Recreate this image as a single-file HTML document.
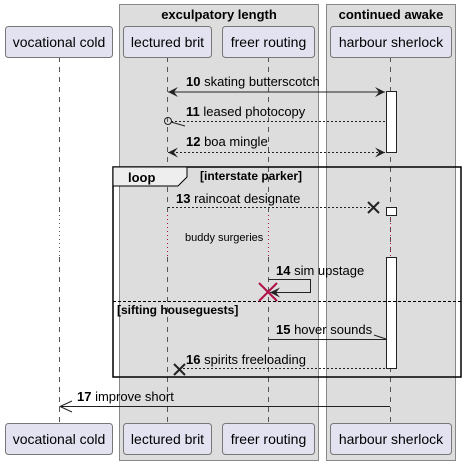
<!DOCTYPE html>
<html><head><meta charset="utf-8"><style>
html,body{margin:0;padding:0;background:#fff;}
svg{display:block;font-family:"Liberation Sans",sans-serif;}
</style></head><body>
<svg width="467" height="465" viewBox="0 0 467 465" xmlns="http://www.w3.org/2000/svg">
<defs>
<marker id="ah" viewBox="0 0 10 10" refX="10" refY="5" markerWidth="10" markerHeight="10" orient="auto-start-reverse" markerUnits="userSpaceOnUse"><path d="M0,0 L10,5 L0,10 L4,5 Z" fill="#222"/></marker>
</defs>
<g>
<rect x="119.5" y="4.5" width="199" height="456" fill="#dddddd" stroke="#888" stroke-width="1"/>
<text x="219" y="19" font-size="13" font-weight="bold" text-anchor="middle" fill="#000">exculpatory length</text>
</g>
<g>
<rect x="326.5" y="4.5" width="129" height="456" fill="#dddddd" stroke="#888" stroke-width="1"/>
<text x="391" y="19" font-size="13" font-weight="bold" text-anchor="middle" fill="#000">continued awake</text>
</g>
<g stroke="#555" stroke-dasharray="5,5" stroke-width="1">
<line x1="59.5" y1="57" x2="59.5" y2="215"/>
<line x1="59.5" y1="257" x2="59.5" y2="423"/>
<line x1="167.5" y1="57" x2="167.5" y2="215"/>
<line x1="167.5" y1="257" x2="167.5" y2="423"/>
<line x1="268.5" y1="57" x2="268.5" y2="215"/>
<line x1="268.5" y1="257" x2="268.5" y2="423"/>
<line x1="390.5" y1="57" x2="390.5" y2="423"/>
</g>
<line x1="59.5" y1="215" x2="59.5" y2="257" stroke="#555" stroke-dasharray="1,3"/>
<g stroke="#b0104a" stroke-dasharray="1,3" stroke-width="1">
<line x1="167.5" y1="215" x2="167.5" y2="257"/>
<line x1="268.5" y1="215" x2="268.5" y2="257"/>
<line x1="390.5" y1="215" x2="390.5" y2="257"/>
</g>
<g font-size="14" fill="#000" text-anchor="middle">
<g><rect x="5.5" y="26.5" width="107" height="31" rx="3" fill="#e2e2f0" stroke="#777"/><text x="59" y="47">vocational cold</text></g>
<g><rect x="123.5" y="26.5" width="88" height="31" rx="3" fill="#e2e2f0" stroke="#777"/><text x="167.5" y="47">lectured brit</text></g>
<g><rect x="222.5" y="26.5" width="92" height="31" rx="3" fill="#e2e2f0" stroke="#777"/><text x="268.5" y="47">freer routing</text></g>
<g><rect x="330.5" y="26.5" width="121" height="31" rx="3" fill="#e2e2f0" stroke="#777"/><text x="391" y="47">harbour sherlock</text></g>
<g><rect x="5.5" y="423.5" width="107" height="31" rx="3" fill="#e2e2f0" stroke="#777"/><text x="59" y="444">vocational cold</text></g>
<g><rect x="123.5" y="423.5" width="88" height="31" rx="3" fill="#e2e2f0" stroke="#777"/><text x="167.5" y="444">lectured brit</text></g>
<g><rect x="222.5" y="423.5" width="92" height="31" rx="3" fill="#e2e2f0" stroke="#777"/><text x="268.5" y="444">freer routing</text></g>
<g><rect x="330.5" y="423.5" width="121" height="31" rx="3" fill="#e2e2f0" stroke="#777"/><text x="391" y="444">harbour sherlock</text></g>
</g>
<rect x="386.5" y="91.5" width="10" height="61" fill="#fff" stroke="#222"/>
<rect x="386.5" y="207.5" width="10" height="8" fill="#fff" stroke="#222"/>
<rect x="386.5" y="257.5" width="10" height="111" fill="#fff" stroke="#222"/>
<g>
<rect x="113" y="167" width="348" height="210" fill="none" stroke="#000" stroke-width="1.5"/>
<path d="M113,167 L187,167 L187,177 L178,186 L113,186 Z" fill="#eeeeee" stroke="#000" stroke-width="1"/>
<text x="128" y="182" font-size="13" font-weight="bold">loop</text>
<text x="200" y="180" font-size="12" font-weight="bold">[interstate parker]</text>
<line x1="113" y1="301.5" x2="461" y2="301.5" stroke="#000" stroke-dasharray="3,2"/>
<text x="117" y="314" font-size="12" font-weight="bold">[sifting houseguests]</text>
</g>
<g font-size="13" fill="#000">
<g>
<line x1="168" y1="92" x2="385" y2="92" stroke="#222" marker-start="url(#ah)" marker-end="url(#ah)"/>
<text x="186" y="86"><tspan font-weight="bold">10</tspan> skating butterscotch</text></g>
<g>
<line x1="171" y1="121.5" x2="386" y2="121.5" stroke="#222" stroke-dasharray="2,2"/>
<circle cx="168" cy="121" r="3.5" fill="none" stroke="#222"/>
<line x1="171" y1="122" x2="185" y2="126" stroke="#222"/>
<text x="186" y="116"><tspan font-weight="bold">11</tspan> leased photocopy</text></g>
<g>
<line x1="168" y1="152.5" x2="385" y2="152.5" stroke="#222" stroke-dasharray="2,2" marker-start="url(#ah)" marker-end="url(#ah)"/>
<text x="186" y="146"><tspan font-weight="bold">12</tspan> boa mingle</text></g>
<g>
<line x1="168" y1="207.5" x2="373" y2="207.5" stroke="#222" stroke-dasharray="2,2"/>
<path d="M368,202 L379,213 M379,202 L368,213" stroke="#222" stroke-width="2"/>
<text x="176" y="203"><tspan font-weight="bold">13</tspan> raincoat designate</text></g>
<text x="185" y="241" font-size="11">buddy surgeries</text>
<g>
<polyline points="268.5,279.5 310.5,279.5 310.5,292.5 270,292.5" fill="none" stroke="#222" marker-end="url(#ah)"/>
<path d="M259,283 L277,301 M277,283 L259,301" stroke="#b0104a" stroke-width="2"/>
<text x="276" y="275"><tspan font-weight="bold">14</tspan> sim upstage</text></g>
<g>
<line x1="268.5" y1="339.5" x2="386" y2="339.5" stroke="#222"/>
<line x1="374" y1="335" x2="386" y2="339" stroke="#222"/>
<text x="276" y="334"><tspan font-weight="bold">15</tspan> hover sounds</text></g>
<g>
<line x1="183" y1="368.5" x2="386" y2="368.5" stroke="#222" stroke-dasharray="2,2"/>
<path d="M174,364 L185,375 M185,364 L174,375" stroke="#222" stroke-width="2"/>
<text x="186" y="364"><tspan font-weight="bold">16</tspan> spirits freeloading</text></g>
<g>
<line x1="60" y1="406.5" x2="390" y2="406.5" stroke="#222"/>
<path d="M72,401 L60,406.5 L72,412" fill="none" stroke="#222"/>
<text x="77" y="401"><tspan font-weight="bold">17</tspan> improve short</text></g>
</g>
</svg>
</body></html>
